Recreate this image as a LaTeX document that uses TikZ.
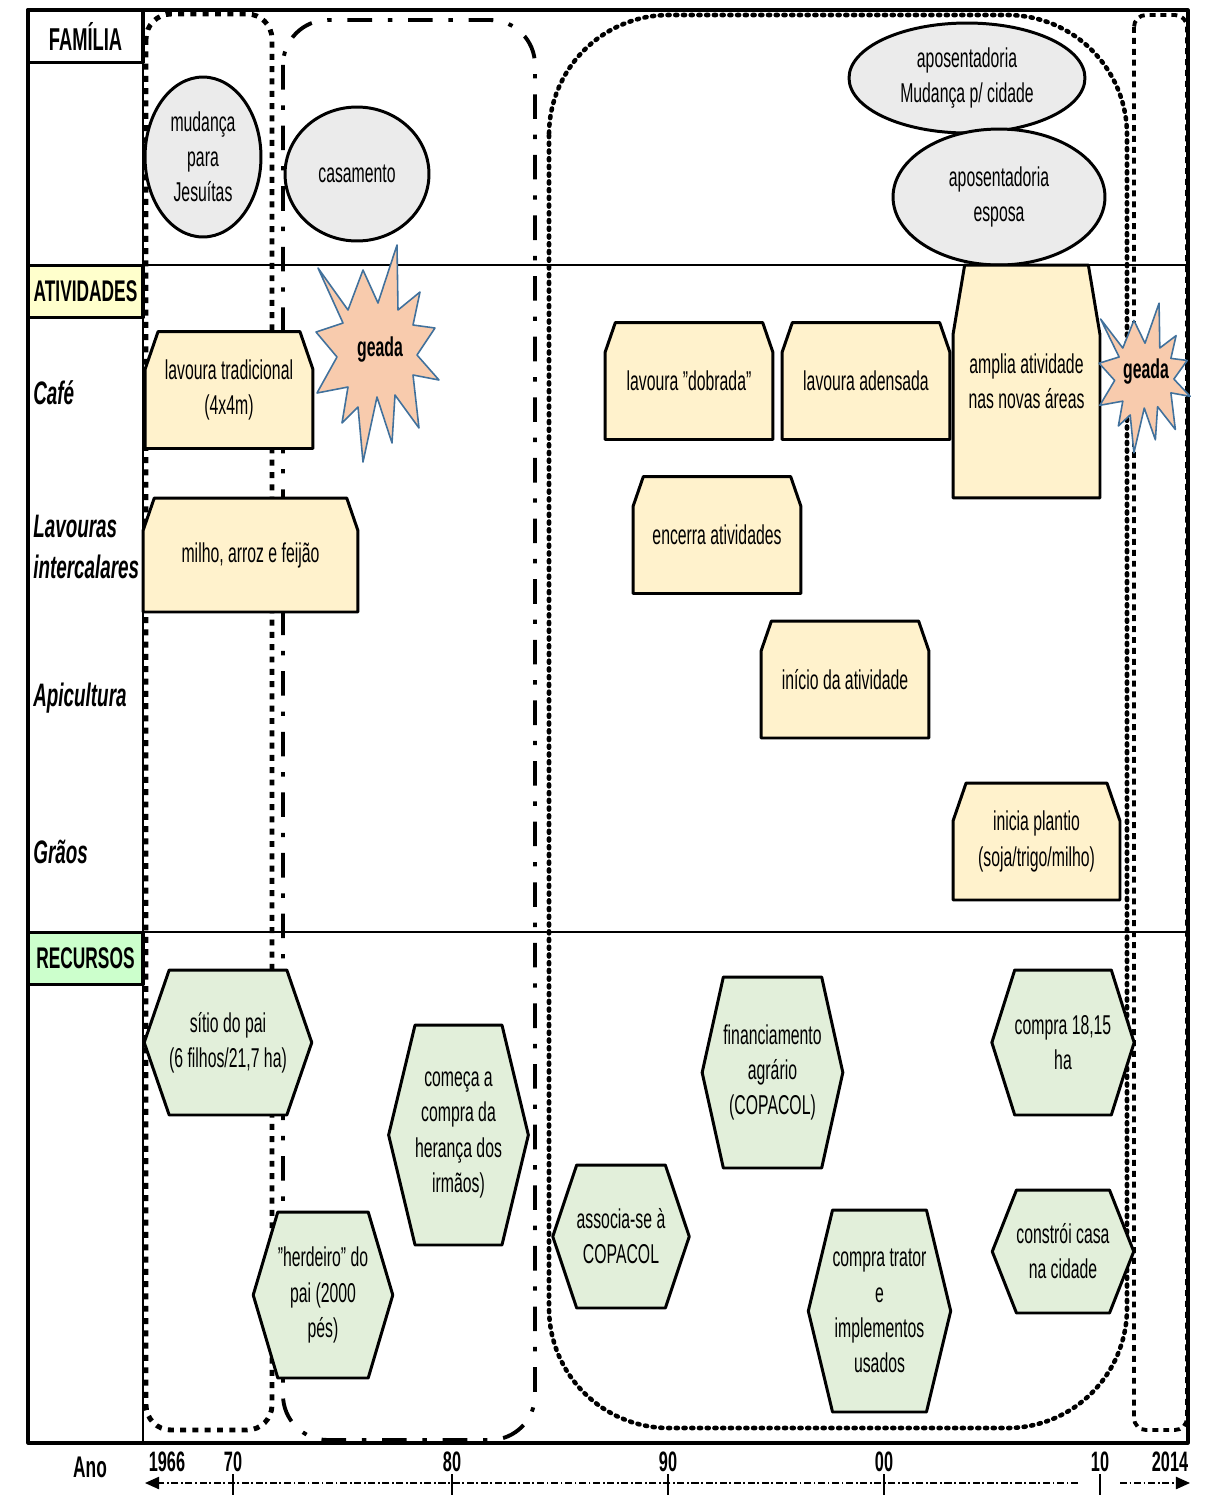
\documentclass[tikz,border=0pt]{standalone}
\usepackage{fontspec}
\setmainfont{Liberation Sans}[FakeStretch=0.58]
\usepackage{tikz}
\usetikzlibrary{shapes.geometric,shapes.misc,shapes.symbols,arrows.meta}

\definecolor{famcor}{HTML}{EBEBEB}
\definecolor{ativcor}{HTML}{FFF2CC}
\definecolor{reccor}{HTML}{E2EFDA}
\definecolor{geadacor}{HTML}{F8CBAD}
\definecolor{geadaborda}{HTML}{41719C}
\definecolor{cabamarelo}{HTML}{FFFFCC}
\definecolor{cabverde}{HTML}{CCFFCC}

\tikzset{
  geada/.pic={
    \draw[geadast] (-60,-84) -- (-30,-42) -- (-15,-82) -- (0,-49) -- (19,-107) -- (20,-42)
      -- (42,-60) -- (35,-27) -- (57,-24) -- (39,3) -- (61,28) -- (35,23) -- (41,76)
      -- (17,43) -- (14,91) -- (-1,45) -- (-15,110) -- (-20,55) -- (-36,71) -- (-30,35)
      -- (-61,41) -- (-41,5) -- (-62,-20) -- (-35,-29) -- cycle;
  }
}

\begin{document}
\begin{tikzpicture}[
  x=0.02cm, y=-0.02cm,
  font=\fontsize{15.5}{20}\selectfont,
  line join=round,
  moldura/.style={line width=1.8pt},
  fina/.style={line width=0.7pt},
  cabec/.style={rectangle, draw, line width=1.8pt, inner sep=0pt,
    minimum width=2.3cm, minimum height=1.05cm,
    font=\fontsize{17}{20}\selectfont\bfseries},
  linha/.style={anchor=west, align=left, inner sep=0pt,
    font=\fontsize{18.5}{23}\selectfont\bfseries\itshape},
  familia/.style={ellipse, draw, line width=1.7pt, fill=famcor,
    align=center, inner sep=0pt},
  atividade/.style={chamfered rectangle,
    chamfered rectangle corners={north west, north east},
    chamfered rectangle angle=19, chamfered rectangle ysep=0.4cm,
    draw, line width=1.7pt, fill=ativcor, align=center, inner sep=0pt,
    minimum width=3.36cm, minimum height=2.34cm},
  recurso/.style={signal, signal to=east and west, signal pointer angle=145,
    draw, line width=1.7pt, fill=reccor, align=center, inner sep=0pt},
  geadast/.style={draw=geadaborda, fill=geadacor, line width=0.9pt},
  geadatxt/.style={font=\fontsize{15.5}{20}\selectfont\bfseries, inner sep=0pt},
  periodoa/.style={line width=2.8pt, dash pattern=on 3.4pt off 3.6pt},
  periodob/.style={line width=2.2pt, dash pattern=on 14pt off 9pt on 2.5pt off 9pt},
  periodoc/.style={line width=2.6pt, line cap=round, dash pattern=on 1.2pt off 3.2pt},
  periodod/.style={line width=2.2pt, dash pattern=on 3.4pt off 2.8pt},
  ano/.style={font=\fontsize{16}{18}\selectfont\bfseries, inner sep=0pt},
  eixo/.style={line width=0.8pt, dash pattern=on 4pt off 1.5pt on 1pt off 1.5pt,
    -{Triangle[length=8pt, width=7pt]}}
]

\useasboundingbox (0,0) rectangle (1215,1495);

% =========================================================================
% Periodos (contornos tracejados)
% =========================================================================
\draw[periodoa, rounded corners=0.5cm] (146,14) rectangle (272,1430);
\draw[periodob, rounded corners=0.9cm] (283,20) rectangle (535,1440);
\draw[periodoc, rounded corners=2.4cm] (549,15) rectangle (1127,1428);
\draw[periodod, rounded corners=0.24cm] (1134,15) rectangle (1187,1430);

% =========================================================================
% Quadro e coluna dos rotulos
% =========================================================================
\draw[moldura] (28,10) -- (1188,10) -- (1188,1443) -- (28,1443) -- cycle;
\draw[fina] (143,10) -- (143,1443);
\draw[fina] (143,265) -- (1188,265);
\draw[fina] (143,932) -- (1188,932);

\node[cabec, font=\fontsize{18}{20}\selectfont\bfseries] (familia) at (85.5,36) {FAMÍLIA};
\node[cabec, fill=cabamarelo] (atividades) at (85.5,291.5) {ATIVIDADES};
\node[cabec, fill=cabverde] (recursos) at (85.5,958.5) {RECURSOS};

\node[linha] (cafe) at (33,393) {Café};
\node[linha] (lavouras) at (33,547) {Lavouras\\intercalares};
\node[linha] (apicultura) at (33,698) {Apicultura};
\node[linha] (graos) at (33,852) {Grãos};

% =========================================================================
% Familia
% =========================================================================
\node[familia, minimum width=2.32cm, minimum height=3.2cm] (jesuitas) at (203,157)
  {mudança\\para\\Jesuítas};
\node[familia, minimum width=2.88cm, minimum height=2.68cm] (casamento) at (357,174)
  {casamento};
\node[familia, minimum width=4.72cm, minimum height=2.2cm] (aposcidade) at (967,78)
  {aposentadoria\\Mudança p/ cidade};
\node[familia, minimum width=4.24cm, minimum height=2.72cm] (aposesposa) at (999,197)
  {aposentadoria\\esposa};

% =========================================================================
% Atividades
% =========================================================================
\node[atividade] (lavtrad) at (229,390) {lavoura tradicional\\(4x4m)};
\node[atividade, minimum width=4.3cm, minimum height=2.28cm] (milho) at (250.5,555)
  {milho, arroz e feijão};
\node[atividade] (dobrada) at (689,381) {lavoura "dobrada"};
\node[atividade] (adensada) at (866,381) {lavoura adensada};
\node[atividade, minimum width=2.94cm, minimum height=4.66cm,
  chamfered rectangle angle=9.5, chamfered rectangle ysep=0.84cm] (amplia) at (1026.5,381.5)
  {amplia atividade\\nas novas áreas};
\node[atividade] (encerra) at (717,535) {encerra atividades};
\node[atividade] (inicio) at (845,679.5) {início da atividade};
\node[atividade, minimum width=3.34cm] (plantio) at (1036.5,841.5)
  {inicia plantio\\(soja/trigo/milho)};

% Geadas
\pic (geadaa) at (378,352) {geada};
\node[geadatxt] (geadaatxt) at (380,350) {geada};
\pic[xscale=0.74, yscale=0.69] (geadab) at (1145,377) {geada};
\node[geadatxt] (geadabtxt) at (1146,372) {geada};

% =========================================================================
% Recursos
% =========================================================================
\node[recurso, minimum height=2.9cm, signal pointer angle=142]
  (sitio) at (228,1042.5) {sítio do pai\\(6 filhos/21,7 ha)};
\node[recurso, minimum height=4.4cm, signal pointer angle=153]
  (heranca) at (458.5,1135) {começa a\\compra da\\herança dos\\irmãos)};
\node[recurso, minimum height=3.32cm, signal pointer angle=147]
  (herdeiro) at (323,1295) {"herdeiro" do\\pai (2000\\pés)};
\node[recurso, minimum height=2.86cm, signal pointer angle=143]
  (associa) at (621,1236.5) {associa-se à\\COPACOL};
\node[recurso, minimum height=3.82cm, signal pointer angle=155]
  (financ) at (772.5,1072.5) {financiamento\\agrário\\(COPACOL)};
\node[recurso, minimum height=4.04cm, signal pointer angle=153]
  (trator) at (879.5,1311) {compra trator\\e\\implementos\\usados};
\node[recurso, minimum height=2.9cm, signal pointer angle=145]
  (compra) at (1063,1042.5) {compra 18,15\\ha};
\node[recurso, minimum height=2.46cm, signal pointer angle=137]
  (casa) at (1063,1251.5) {constrói casa\\na cidade};

% =========================================================================
% Eixo dos anos
% =========================================================================
\node[ano, font=\fontsize{17}{18}\selectfont\bfseries] (anotxt) at (90,1467) {Ano};
\node[ano] (a1966) at (167,1462) {1966};
\node[ano] (a2014) at (1170,1462) {2014};
\foreach \n/\x in {70/233, 80/452, 90/668, 00/884, 10/1100}{
  \node[ano] (a\n) at (\x,1462) {\n};
  \draw[fina] (\x,1474) -- (\x,1495);
}
\coordinate (eixoini) at (1078,1483);
\coordinate (eixoesq) at (145,1483);
\coordinate (eixoret) at (1120,1483);
\coordinate (eixodir) at (1190,1483);
\draw[eixo] (eixoini) -- (eixoesq);
\draw[eixo] (eixoret) -- (eixodir);

\end{tikzpicture}
\end{document}
